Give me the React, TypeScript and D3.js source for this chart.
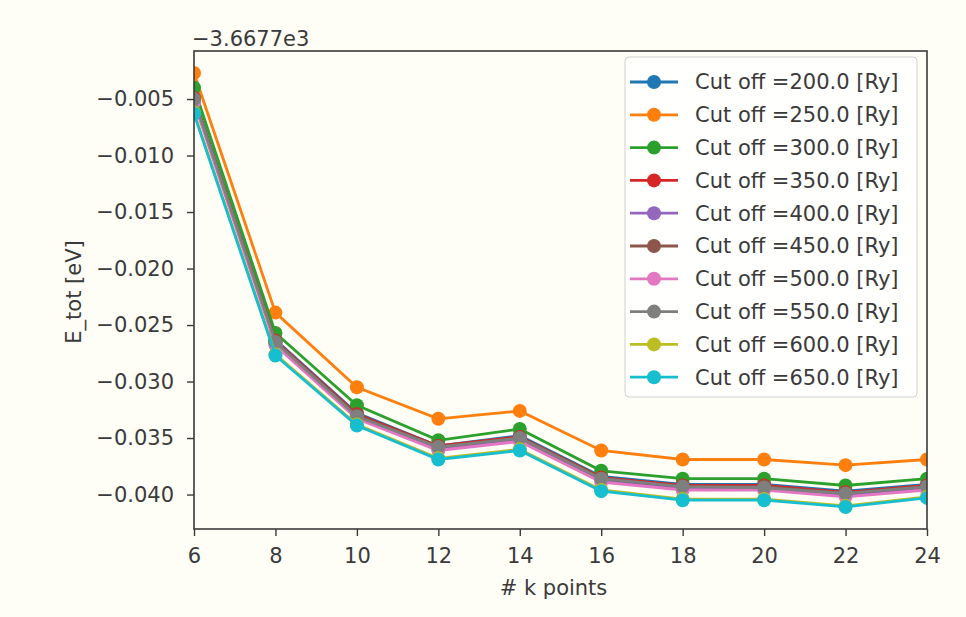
import React, { useEffect, useRef } from 'react';
import * as d3 from 'd3';

const kPoints = [6, 8, 10, 12, 14, 16, 18, 20, 22, 24];

const cutoffs = [200, 250, 300, 350, 400, 450, 500, 550, 600, 650];

// energies relative to the offset -3.6677e3 eV
const cut200 = [-0.0048, -0.0263, -0.0328, -0.0357, -0.0348, -0.0384, -0.0391, -0.0391, -0.0397, -0.0391];
const cut250 = [-0.0027, -0.0239, -0.0305, -0.0333, -0.0326, -0.0361, -0.0369, -0.0369, -0.0374, -0.0369];
const cut300 = [-0.0040, -0.0257, -0.0321, -0.0352, -0.0342, -0.0379, -0.0386, -0.0386, -0.0392, -0.0386];
const cut350 = [-0.0049, -0.0264, -0.0329, -0.0357, -0.0349, -0.0385, -0.0392, -0.0392, -0.0398, -0.0392];
const cut400 = [-0.0051, -0.0266, -0.0331, -0.0359, -0.0351, -0.0387, -0.0394, -0.0394, -0.0400, -0.0394];
const cut450 = [-0.0050, -0.0265, -0.0330, -0.0358, -0.0350, -0.0386, -0.0393, -0.0393, -0.0399, -0.0393];
const cut500 = [-0.0053, -0.0268, -0.0333, -0.0361, -0.0353, -0.0389, -0.0396, -0.0396, -0.0402, -0.0396];
const cut550 = [-0.0050, -0.0265, -0.0331, -0.0358, -0.0350, -0.0386, -0.0393, -0.0394, -0.0399, -0.0393];
const cut600 = [-0.0062, -0.0276, -0.0338, -0.0368, -0.0360, -0.0396, -0.0404, -0.0404, -0.0410, -0.0402];
const cut650 = [-0.0063, -0.0277, -0.0339, -0.0369, -0.0361, -0.0397, -0.0405, -0.0405, -0.0411, -0.0403];

const seriesValues = [cut200, cut250, cut300, cut350, cut400, cut450, cut500, cut550, cut600, cut650];

const xTicks = [6, 8, 10, 12, 14, 16, 18, 20, 22, 24];
const yTicks = [-0.005, -0.010, -0.015, -0.020, -0.025, -0.030, -0.035, -0.040];
const offsetLabel = '\u22123.6677e3';

const colors = d3.schemeCategory10;
const FONT = 'DejaVu Sans, sans-serif';
const FS = 21;
const INK = '#3a3a3a';

const renderChart = (svgEl: SVGSVGElement) => {
  const svg = d3.select(svgEl);
  svg.selectAll('*').remove();

  const width = 966;
  const height = 617;
  const margin = { top: 51, right: 39, bottom: 88, left: 194 };
  const innerWidth = width - margin.left - margin.right;
  const innerHeight = height - margin.top - margin.bottom;

  svg.append('rect').attr('width', width).attr('height', height).attr('fill', '#fefef6');

  const xScale = d3.scaleLinear().domain([6, 24]).range([0, innerWidth]);
  const yScale = d3.scaleLinear().domain([-0.04305, -0.00075]).range([innerHeight, 0]);

  const g = svg.append('g').attr('transform', `translate(${margin.left},${margin.top})`);

  g.append('clipPath').attr('id', 'plot-clip')
    .append('rect').attr('width', innerWidth).attr('height', innerHeight);

  const plot = g.append('g').attr('clip-path', 'url(#plot-clip)');

  const line = d3.line<number>()
    .x((d, i) => xScale(kPoints[i]))
    .y(d => yScale(d));

  seriesValues.forEach((vals, s) => {
    plot.append('path')
      .attr('d', line(vals))
      .attr('fill', 'none')
      .attr('stroke', colors[s])
      .attr('stroke-width', 2.8);
    plot.selectAll(null).data(vals).enter().append('circle')
      .attr('cx', (d, i) => xScale(kPoints[i]))
      .attr('cy', d => yScale(d))
      .attr('r', 7)
      .attr('fill', colors[s]);
  });

  // axes
  const xAxis = d3.axisBottom(xScale).tickValues(xTicks).tickSize(7).tickPadding(12)
    .tickFormat(d => String(d));
  const yAxis = d3.axisLeft(yScale).tickValues(yTicks).tickSize(7).tickPadding(13)
    .tickFormat(d => d3.format('.3f')(d as number).replace('-', '\u2212'));

  const xg = g.append('g').attr('transform', `translate(0,${innerHeight})`).call(xAxis);
  const yg = g.append('g').call(yAxis);
  [xg, yg].forEach(a => {
    a.select('.domain').remove();
    a.selectAll('.tick line').attr('stroke', INK).attr('stroke-width', 1.4);
    a.selectAll('.tick text').attr('fill', INK).style('font-family', FONT).style('font-size', `${FS}px`);
  });

  // spines
  g.append('rect').attr('width', innerWidth).attr('height', innerHeight)
    .attr('fill', 'none').attr('stroke', INK).attr('stroke-width', 1.6);

  g.append('text')
    .attr('x', -2).attr('y', -5)
    .attr('fill', INK)
    .style('font-family', FONT).style('font-size', `${FS}px`)
    .text(offsetLabel);

  g.append('text')
    .attr('transform', `translate(${-113},${innerHeight / 2 + 2}) rotate(-90)`)
    .attr('text-anchor', 'middle')
    .attr('fill', INK)
    .style('font-family', FONT).style('font-size', `${FS}px`)
    .text('E_tot [eV]');

  g.append('text')
    .attr('x', innerWidth / 2 - 7).attr('y', innerHeight + 66)
    .attr('text-anchor', 'middle')
    .attr('fill', INK)
    .style('font-family', FONT).style('font-size', `${FS}px`)
    .text('# k points');

  // legend
  const legend = g.append('g').attr('transform', `translate(${625 - margin.left},${57 - margin.top})`);
  legend.append('rect')
    .attr('width', 292).attr('height', 340).attr('rx', 4)
    .attr('fill', '#ffffff').attr('fill-opacity', 0.8)
    .attr('stroke', '#d0d0d0').attr('stroke-width', 1);

  cutoffs.forEach((c, i) => {
    const yy = 25 + i * 32.8;
    legend.append('line')
      .attr('x1', 5).attr('x2', 53).attr('y1', yy).attr('y2', yy)
      .attr('stroke', colors[i]).attr('stroke-width', 2.8);
    legend.append('circle').attr('cx', 29).attr('cy', yy).attr('r', 7).attr('fill', colors[i]);
    legend.append('text')
      .attr('x', 70).attr('y', yy).attr('dy', '0.35em')
      .attr('fill', INK)
      .style('font-family', FONT).style('font-size', `${FS}px`)
      .text(`Cut off =${c.toFixed(1)} [Ry]`);
  });
};

export default function App() {
  const ref = useRef<SVGSVGElement>(null);
  useEffect(() => {
    if (ref.current) renderChart(ref.current);
  }, []);
  return (
    <svg
      ref={ref}
      width={966}
      height={617}
      style={{ position: 'absolute', left: 0, top: 0, display: 'block' }}
    />
  );
}
